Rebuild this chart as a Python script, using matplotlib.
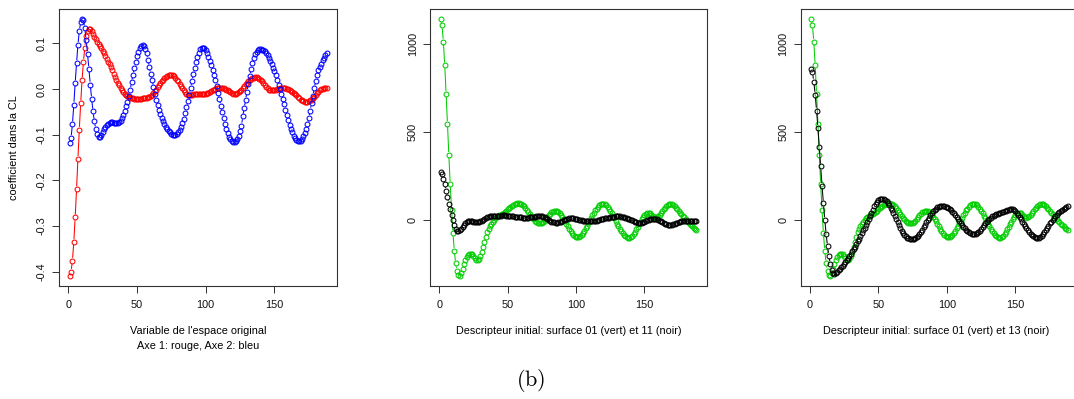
import numpy as np
import matplotlib
matplotlib.use("Agg")
import matplotlib.pyplot as plt
from matplotlib.collections import LineCollection

plt.rcParams['font.family'] = ['Liberation Sans', 'DejaVu Sans']
plt.rcParams['mathtext.fontset'] = 'cm'
plt.rcParams['axes.unicode_minus'] = False

# ---------------- data ----------------
axe1_red = [
    -0.409, -0.400, -0.376, -0.335, -0.281, -0.219, -0.153, -0.089, -0.031, 0.019,
    0.060, 0.091, 0.116, 0.128, 0.132, 0.131, 0.127, 0.121, 0.115, 0.109,
    0.104, 0.099, 0.094, 0.089, 0.084, 0.078, 0.072, 0.066, 0.060, 0.054,
    0.048, 0.041, 0.034, 0.027, 0.020, 0.014, 0.008, 0.002, -0.003, -0.007,
    -0.011, -0.014, -0.016, -0.018, -0.019, -0.020, -0.020, -0.021, -0.021, -0.021,
    -0.021, -0.021, -0.021, -0.020, -0.020, -0.020, -0.019, -0.018, -0.017, -0.015,
    -0.012, -0.009, -0.005, -0.001, 0.004, 0.008, 0.013, 0.017, 0.021, 0.024,
    0.027, 0.029, 0.030, 0.031, 0.031, 0.030, 0.028, 0.025, 0.021, 0.017,
    0.012, 0.007, 0.002, -0.003, -0.007, -0.010, -0.012, -0.013, -0.013, -0.012,
    -0.011, -0.010, -0.010, -0.011, -0.011, -0.011, -0.011, -0.011, -0.010, -0.010,
    -0.009, -0.008, -0.007, -0.005, -0.003, -0.001, 0.001, 0.002, 0.003, 0.003,
    0.003, 0.003, 0.002, 0.001, -0.001, -0.003, -0.005, -0.007, -0.009, -0.010,
    -0.010, -0.010, -0.009, -0.007, -0.004, -0.001, 0.003, 0.007, 0.011, 0.014,
    0.017, 0.020, 0.022, 0.024, 0.025, 0.026, 0.026, 0.025, 0.023, 0.020,
    0.017, 0.013, 0.009, 0.005, 0.002, -0.001, -0.002, -0.003, -0.003, -0.002,
    -0.001, 0.000, 0.001, 0.002, 0.003, 0.003, 0.003, 0.002, 0.001, 0.000,
    -0.002, -0.004, -0.006, -0.009, -0.011, -0.014, -0.017, -0.020, -0.023, -0.025,
    -0.027, -0.028, -0.029, -0.028, -0.027, -0.025, -0.023, -0.020, -0.017, -0.013,
    -0.009, -0.006, -0.003, 0.000, 0.001, 0.002, 0.002, 0.002,
]

axe2_blue = [
    -0.119, -0.107, -0.077, -0.034, 0.013, 0.057, 0.097, 0.127, 0.147, 0.153,
    0.151, 0.133, 0.107, 0.077, 0.044, 0.010, -0.022, -0.049, -0.071, -0.088,
    -0.099, -0.104, -0.104, -0.100, -0.095, -0.088, -0.083, -0.079, -0.076, -0.074,
    -0.073, -0.073, -0.074, -0.075, -0.075, -0.075, -0.073, -0.069, -0.063, -0.056,
    -0.049, -0.038, -0.028, -0.015, -0.002, 0.015, 0.031, 0.046, 0.059, 0.072,
    0.082, 0.090, 0.095, 0.097, 0.095, 0.088, 0.078, 0.064, 0.048, 0.033,
    0.019, 0.004, -0.010, -0.023, -0.035, -0.046, -0.055, -0.063, -0.070, -0.076,
    -0.082, -0.087, -0.091, -0.095, -0.098, -0.100, -0.101, -0.101, -0.099, -0.095,
    -0.090, -0.083, -0.075, -0.065, -0.053, -0.040, -0.026, -0.012, 0.003, 0.018,
    0.033, 0.047, 0.060, 0.071, 0.080, 0.087, 0.091, 0.091, 0.089, 0.085,
    0.079, 0.071, 0.062, 0.052, 0.042, 0.031, 0.019, 0.006, -0.008, -0.022,
    -0.037, -0.051, -0.064, -0.076, -0.087, -0.097, -0.105, -0.110, -0.114, -0.116,
    -0.115, -0.114, -0.110, -0.102, -0.092, -0.080, -0.060, -0.042, -0.024, -0.006,
    0.012, 0.029, 0.044, 0.057, 0.068, 0.076, 0.082, 0.086, 0.087, 0.087,
    0.086, 0.085, 0.083, 0.079, 0.074, 0.069, 0.062, 0.055, 0.047, 0.039,
    0.030, 0.020, 0.010, 0.001, -0.010, -0.021, -0.033, -0.045, -0.057, -0.068,
    -0.078, -0.087, -0.095, -0.102, -0.107, -0.111, -0.113, -0.114, -0.113, -0.109,
    -0.103, -0.096, -0.088, -0.077, -0.063, -0.047, -0.031, -0.015, 0.002, 0.018,
    0.031, 0.041, 0.049, 0.056, 0.063, 0.069, 0.074, 0.078,
]

surface01_green = [
    1142, 1107, 1015, 880, 718, 547, 371, 204, 60, -75,
    -174, -246, -287, -311, -316, -300, -275, -250, -228, -210,
    -198, -191, -190, -195, -205, -216, -224, -226, -220, -205,
    -183, -155, -124, -95, -70, -50, -33, -20, -8, 2,
    10, 16, 22, 27, 31, 36, 41, 47, 54, 61,
    68, 75, 81, 86, 90, 93, 95, 95, 94, 91,
    86, 79, 70, 60, 49, 37, 25, 14, 4, -5,
    -12, -17, -19, -19, -16, -10, -2, 8, 18, 28,
    37, 44, 49, 52, 52, 50, 46, 39, 30, 19,
    7, -6, -20, -34, -48, -61, -73, -83, -91, -96,
    -98, -96, -91, -83, -73, -61, -47, -32, -17, -2,
    13, 28, 42, 55, 66, 76, 84, 89, 92, 92,
    89, 84, 76, 66, 54, 40, 25, 10, -5, -20,
    -35, -49, -62, -74, -84, -92, -98, -100, -99, -95,
    -88, -78, -66, -52, -37, -22, -8, 5, 17, 27,
    36, 41, 42, 38, 31, 24, 18, 15, 16, 21,
    29, 39, 50, 61, 71, 80, 87, 91, 92, 90,
    85, 78, 70, 61, 52, 43, 34, 25, 16, 7,
    -2, -11, -20, -28, -36, -43, -49, -54,
]

surface11_black = [
    276, 262, 236, 204, 166, 130, 94, 62, 30, 0,
    -28, -50, -62, -64, -58, -48, -37, -26, -17, -11,
    -7, -5, -5, -6, -8, -10, -11, -11, -10, -7,
    -3, 2, 7, 12, 16, 19, 21, 22, 23, 23,
    23, 23, 24, 25, 26, 27, 27, 27, 26, 25,
    24, 23, 22, 21, 20, 19, 18, 17, 16, 16,
    15, 15, 15, 15, 15, 16, 17, 18, 19, 20,
    21, 22, 23, 23, 22, 20, 16, 11, 6, 1,
    -4, -8, -11, -13, -14, -14, -13, -11, -8, -5,
    -1, 2, 5, 8, 10, 11, 11, 10, 9, 7,
    5, 3, 1, -1, -3, -4, -5, -5, -5, -5,
    -5, -4, -4, -3, -2, 0, 2, 4, 6, 8,
    10, 12, 14, 15, 17, 18, 19, 20, 21, 21,
    21, 21, 20, 19, 17, 15, 12, 9, 6, 3,
    -1, -5, -9, -12, -14, -15, -15, -14, -12, -9,
    -5, -1, 2, 5, 7, 8, 8, 7, 5, 2,
    -2, -7, -12, -17, -21, -24, -26, -27, -27, -26,
    -24, -21, -18, -15, -12, -9, -7, -5, -4, -3,
    -3, -3, -3, -3, -3, -4, -4, -4,
]

surface13_black = [
    862, 840, 788, 713, 623, 525, 413, 305, 196, 95,
    1, -79, -149, -202, -250, -283, -298, -304, -300, -292,
    -284, -276, -268, -259, -250, -240, -229, -217, -204, -191,
    -178, -164, -150, -136, -121, -106, -90, -74, -58, -42,
    -26, -10, 6, 24, 42, 60, 78, 94, 106, 115,
    120, 123, 123, 121, 116, 108, 97, 85, 71, 56,
    40, 23, 6, -11, -28, -44, -59, -72, -83, -92,
    -99, -104, -107, -108, -108, -106, -102, -96, -88, -78,
    -67, -54, -40, -26, -12, 2, 15, 28, 40, 50,
    59, 66, 72, 76, 78, 79, 79, 78, 76, 73,
    68, 62, 55, 47, 38, 28, 18, 7, -4, -15,
    -26, -37, -47, -56, -64, -70, -75, -78, -80, -80,
    -78, -74, -68, -60, -51, -41, -30, -19, -9, 0,
    8, 15, 21, 26, 30, 33, 36, 39, 42, 45,
    48, 51, 54, 57, 59, 61, 62, 61, 57, 50,
    41, 30, 18, 5, -8, -21, -34, -46, -57, -67,
    -76, -84, -91, -97, -101, -103, -102, -98, -91, -81,
    -69, -56, -43, -31, -19, -8, 3, 13, 22, 30,
    38, 45, 52, 58, 64, 70, 76, 81,
]

variable_index = np.arange(1, len(axe1_red) + 1)

x_ticks = [0, 50, 100, 150]
x_tick_labels = ["0", "50", "100", "150"]
p1_y_ticks = [-0.4, -0.3, -0.2, -0.1, 0.0, 0.1]
p1_y_tick_labels = ["-0.4", "-0.3", "-0.2", "-0.1", "0.0", "0.1"]
p23_y_ticks = [0, 500, 1000]
p23_y_tick_labels = ["0", "500", "1000"]

RED = "#FF0000"
BLUE = "#0000FF"
GREEN = "#00CD00"
BLACK = "#000000"

# ---------------- figure ----------------
W, H = 1074, 399
fig = plt.figure(figsize=(W / 100, H / 100), dpi=100)


def px_axes(left, right, top, bottom):
    return fig.add_axes([left / W, 1 - bottom / H, (right - left) / W, (bottom - top) / H])


ax1 = px_axes(59.4, 336.9, 9, 286)
ax2 = px_axes(430.4, 706.7, 9, 286)
ax3 = px_axes(800.8, 1077.9, 9, 286)

FS = 7.8


def r_lim(vals):
    lo, hi = float(np.min(vals)), float(np.max(vals))
    pad = 0.04 * (hi - lo)
    return lo - pad, hi + pad


def style(ax, yticks, ylabels):
    ax.set_xlim(*r_lim(variable_index))
    ax.set_xticks(x_ticks)
    ax.set_xticklabels(x_tick_labels)
    ax.set_yticks(yticks)
    ax.set_yticklabels(ylabels, rotation=90, va="center")
    ax.tick_params(direction="out", length=5, width=0.6, labelsize=FS, colors="#111111")
    ax.tick_params(axis="x", pad=5)
    ax.tick_params(axis="y", pad=4)
    for sp in ax.spines.values():
        sp.set_linewidth(0.8)
        sp.set_color("#333333")


GAP = 2.9  # pixels cut from each end of the joining segments (R type="b")


def draw_series(ax, x, y, color):
    x = np.asarray(x, float)
    y = np.asarray(y, float)
    pts = ax.transData.transform(np.column_stack([x, y]))
    inv = ax.transData.inverted()
    segs = []
    for p0, p1 in zip(pts[:-1], pts[1:]):
        d = p1 - p0
        L = np.hypot(d[0], d[1])
        if L > 2 * GAP + 0.5:
            u = d / L
            segs.append(inv.transform(np.array([p0 + u * GAP, p1 - u * GAP])))
    ax.add_collection(LineCollection(segs, colors=color, linewidths=0.75))
    ax.plot(x, y, linestyle="none", marker="o", markersize=3.5,
            markerfacecolor="none", markeredgecolor=color, markeredgewidth=0.75)


# panel 1
style(ax1, p1_y_ticks, p1_y_tick_labels)
ax1.set_ylim(*r_lim(np.concatenate([axe1_red, axe2_blue])))
draw_series(ax1, variable_index, axe1_red, RED)
draw_series(ax1, variable_index, axe2_blue, BLUE)

# panel 2
style(ax2, p23_y_ticks, p23_y_tick_labels)
ax2.set_ylim(*r_lim(np.concatenate([surface01_green, surface11_black])))
draw_series(ax2, variable_index, surface01_green, GREEN)
draw_series(ax2, variable_index, surface11_black, BLACK)

# panel 3
style(ax3, p23_y_ticks, p23_y_tick_labels)
ax3.set_ylim(*r_lim(np.concatenate([surface01_green, surface13_black])))
draw_series(ax3, variable_index, surface01_green, GREEN)
draw_series(ax3, variable_index, surface13_black, BLACK)


# labels
def cx(ax):
    b = ax.get_position()
    return b.x0 + b.width / 2


fig.text(cx(ax1), 1 - 331 / H, "Variable de l'espace original", ha="center", va="center", fontsize=FS)
fig.text(cx(ax1), 1 - 346 / H, "Axe 1: rouge, Axe 2: bleu", ha="center", va="center", fontsize=FS)
fig.text(cx(ax2), 1 - 331 / H, "Descripteur initial: surface 01 (vert) et 11 (noir)",
         ha="center", va="center", fontsize=FS)
fig.text(936.5 / W, 1 - 331 / H, "Descripteur initial: surface 01 (vert) et 13 (noir)",
         ha="center", va="center", fontsize=FS)
fig.text(14 / W, 1 - 148 / H, "coefficient dans la CL", rotation=90,
         ha="center", va="center", fontsize=FS)
fig.text(531 / W, 1 - 381 / H, r"$\mathrm{(b)}$", ha="center", va="center", fontsize=16)

fig.savefig("out.png", dpi=100)
